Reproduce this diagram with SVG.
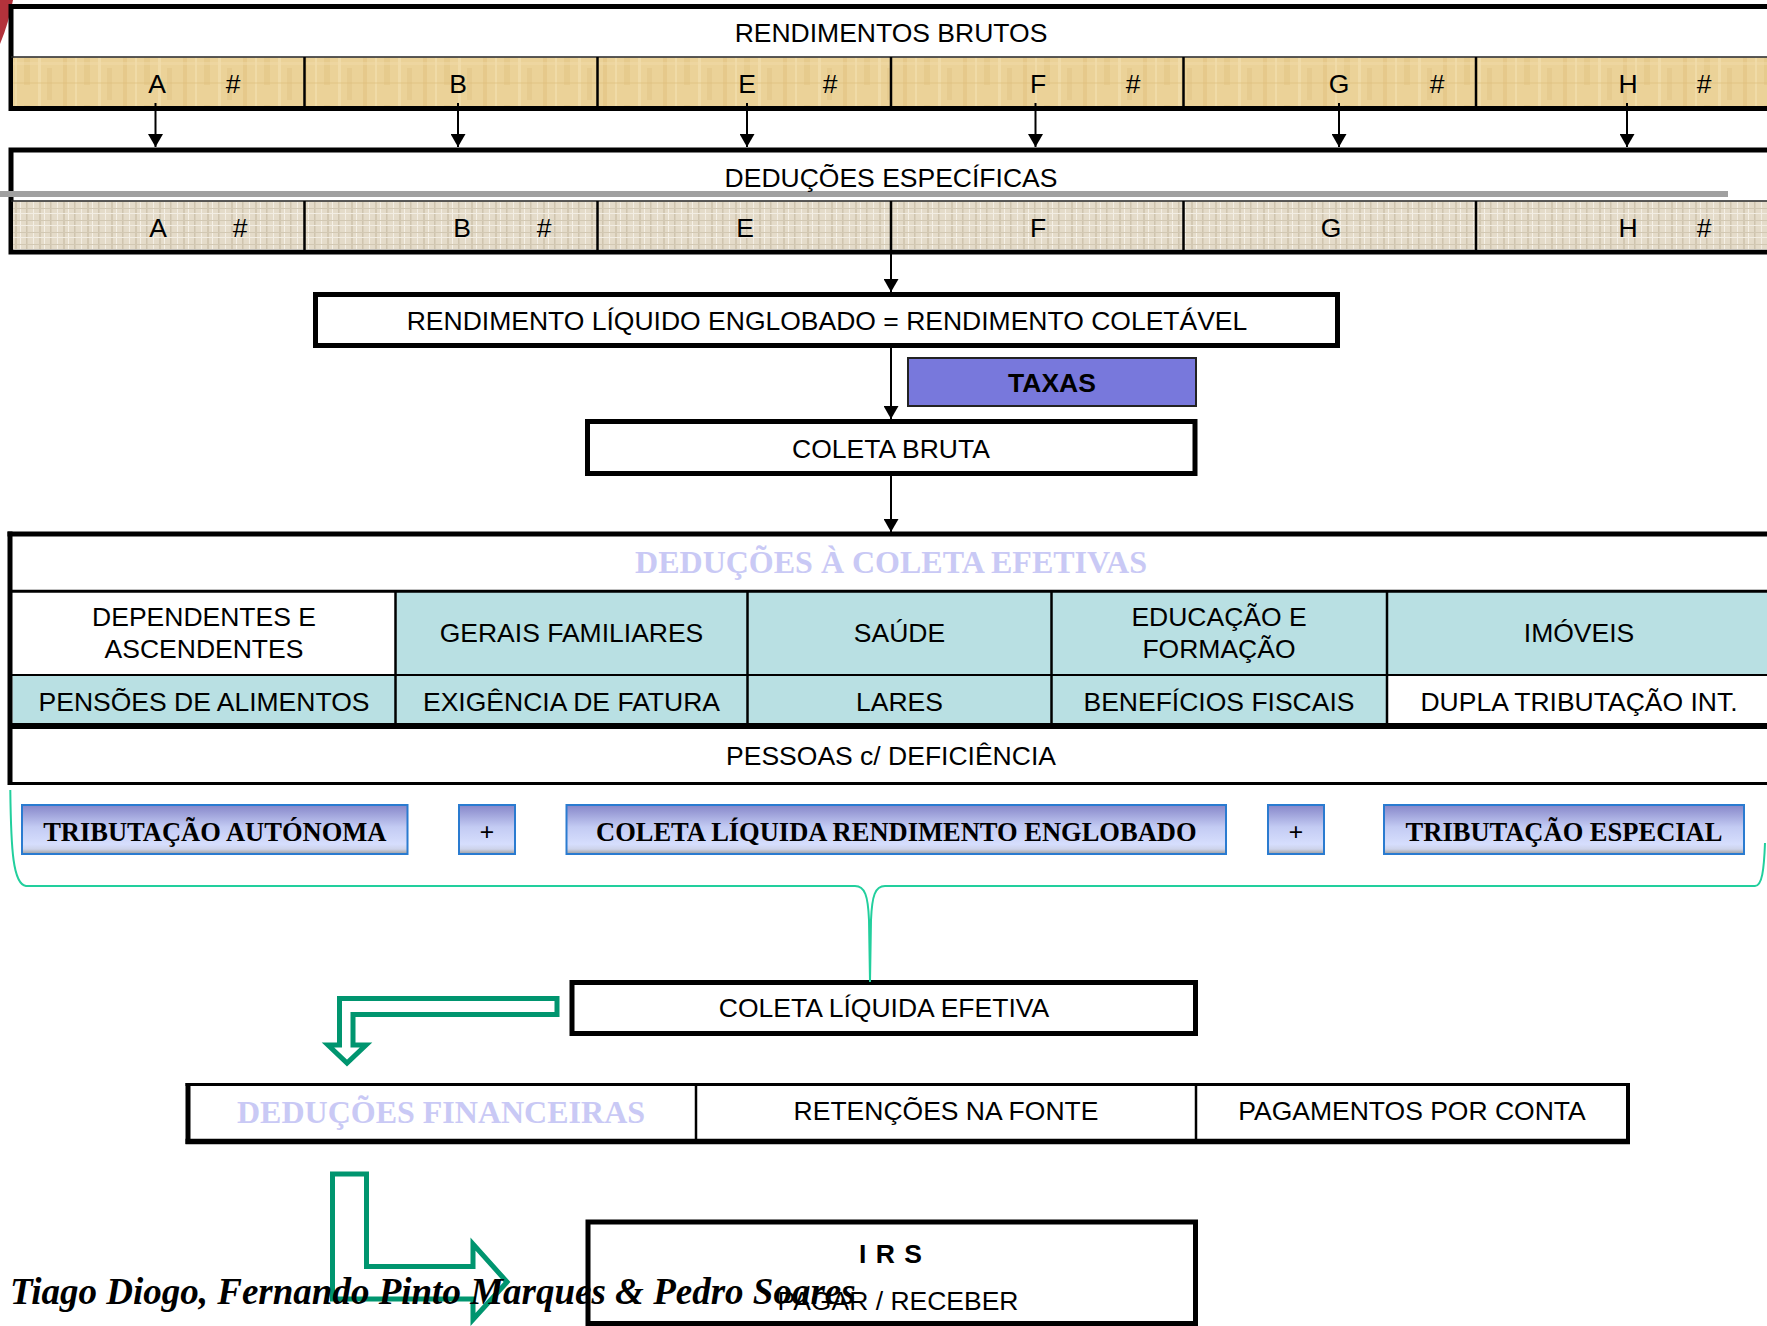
<svg xmlns="http://www.w3.org/2000/svg" width="1767" height="1326" viewBox="0 0 1767 1326">
<defs>
<style>
.t{font-family:"Liberation Sans",Arial,sans-serif;font-size:26.5px;fill:#000;text-anchor:middle}
.sb{font-family:"Liberation Serif","Times New Roman",serif;font-weight:bold;text-anchor:middle;fill:#000}
.lav{fill:#c9c9f5;font-size:32px}
.box{fill:#fff;stroke:#000;stroke-width:5}
.teal{fill:#b9e0e3}
.div{stroke:#000;stroke-width:2.5}
.btn{fill:url(#btnGrad);stroke:#2a7bd0;stroke-width:2}
.conn{stroke:#000;stroke-width:2;fill:none;marker-end:url(#ah)}
.garrow{fill:#fff;stroke:#00956f;stroke-width:5;stroke-linejoin:miter}
</style>
<marker id="ah" markerWidth="14" markerHeight="15" refX="13" refY="7.5" orient="auto" markerUnits="userSpaceOnUse"><path d="M0,0 L13,7.5 L0,15 z" fill="#000"/></marker>
<linearGradient id="btnGrad" x1="0" y1="0" x2="0" y2="1">
<stop offset="0" stop-color="#8686c9"/>
<stop offset="0.45" stop-color="#c3cbf3"/>
<stop offset="0.8" stop-color="#d6defd"/>
<stop offset="0.9" stop-color="#cdd3ea"/>
<stop offset="1" stop-color="#9c9c9c"/>
</linearGradient>
<pattern id="tan" width="60" height="50" patternUnits="userSpaceOnUse">
<rect width="60" height="50" fill="#ebd298"/>
<rect x="3" width="4" height="50" fill="#e0c07c" opacity=".45"/>
<rect x="15" width="2" height="50" fill="#f4e2b3" opacity=".55"/>
<rect x="24" y="5" width="6" height="30" fill="#ddbd79" opacity=".35"/>
<rect x="38" width="3" height="50" fill="#f5e4b8" opacity=".5"/>
<rect x="47" y="18" width="5" height="32" fill="#dfc182" opacity=".4"/>
<rect y="12" width="60" height="3" fill="#f2dcaa" opacity=".45"/>
<rect y="32" width="60" height="2" fill="#dcbc7a" opacity=".35"/>
</pattern>
<pattern id="linen" width="24" height="12" patternUnits="userSpaceOnUse">
<rect width="24" height="12" fill="#e4dbc9"/>
<rect x="2" width="1.5" height="12" fill="#cfc4ae"/>
<rect x="9" width="1" height="12" fill="#f3eee4"/>
<rect x="15" width="2" height="12" fill="#d3c8b2"/>
<rect x="20" width="1" height="12" fill="#f5f0e6"/>
<rect y="4" width="24" height="1" fill="#d2c8b3"/>
<rect y="9" width="24" height="1" fill="#f2ede3"/>
</pattern>
</defs>

<rect width="1767" height="1326" fill="#fff"/>
<path d="M0,0 L13,0 C10,15 6,30 0,44 Z" fill="#b3323b"/>

<g id="rendimentos-brutos">
<rect class="box" x="11" y="6.5" width="1800" height="102"/>
<rect x="13" y="57.5" width="1790" height="48.5" fill="url(#tan)"/>
<line x1="11" y1="57" x2="1767" y2="57" stroke="#222" stroke-width="1.5"/>
<line class="div" x1="304.5" y1="57" x2="304.5" y2="108"/>
<line class="div" x1="597.5" y1="57" x2="597.5" y2="108"/>
<line class="div" x1="891" y1="57" x2="891" y2="108"/>
<line class="div" x1="1183.5" y1="57" x2="1183.5" y2="108"/>
<line class="div" x1="1476" y1="57" x2="1476" y2="108"/>
<text class="t" x="891" y="42">RENDIMENTOS BRUTOS</text>
<text class="t" x="157" y="93">A</text><text class="t" x="233" y="93">#</text>
<text class="t" x="458" y="93">B</text>
<text class="t" x="747" y="93">E</text><text class="t" x="830" y="93">#</text>
<text class="t" x="1038" y="93">F</text><text class="t" x="1133" y="93">#</text>
<text class="t" x="1339" y="93">G</text><text class="t" x="1437" y="93">#</text>
<text class="t" x="1628" y="93">H</text><text class="t" x="1704" y="93">#</text>
</g>

<g id="deducoes-especificas">
<rect class="box" x="11" y="150" width="1800" height="102"/>
<line x1="0" y1="194" x2="1728" y2="194" stroke="#a0a0a0" stroke-width="6"/>
<rect x="13" y="201" width="1790" height="48.5" fill="url(#linen)"/>
<line x1="11" y1="201" x2="1767" y2="201" stroke="#222" stroke-width="1.5"/>
<line class="div" x1="304.5" y1="201" x2="304.5" y2="252"/>
<line class="div" x1="597.5" y1="201" x2="597.5" y2="252"/>
<line class="div" x1="891" y1="201" x2="891" y2="252"/>
<line class="div" x1="1183.5" y1="201" x2="1183.5" y2="252"/>
<line class="div" x1="1476" y1="201" x2="1476" y2="252"/>
<text class="t" x="891" y="186.5">DEDUÇÕES ESPECÍFICAS</text>
<text class="t" x="158" y="237">A</text><text class="t" x="240" y="237">#</text>
<text class="t" x="462" y="237">B</text><text class="t" x="544" y="237">#</text>
<text class="t" x="745" y="237">E</text>
<text class="t" x="1038" y="237">F</text>
<text class="t" x="1331" y="237">G</text>
<text class="t" x="1628" y="237">H</text><text class="t" x="1704" y="237">#</text>
</g>

<g id="rendimento-liquido">
<rect class="box" x="315.5" y="294.5" width="1022" height="51"/>
<text class="t" x="827" y="330">RENDIMENTO LÍQUIDO ENGLOBADO = RENDIMENTO COLETÁVEL</text>
</g>

<g id="taxas">
<rect x="908" y="358" width="288" height="48" fill="#7878dc" stroke="#222" stroke-width="2"/>
<text class="t" x="1052" y="391.5" font-weight="bold">TAXAS</text>
</g>

<g id="coleta-bruta">
<rect class="box" x="587.5" y="421.5" width="607.5" height="52"/>
<text class="t" x="891" y="458">COLETA BRUTA</text>
</g>

<g id="deducoes-coleta">
<rect x="10" y="534" width="1800" height="249" fill="#fff"/>
<rect class="teal" x="395.5" y="592" width="1380" height="83"/>
<rect class="teal" x="12.5" y="675" width="1374.5" height="49"/>
<line x1="7.5" y1="534" x2="1767" y2="534" stroke="#000" stroke-width="5"/>
<line x1="10" y1="531.5" x2="10" y2="785" stroke="#000" stroke-width="5"/>
<line x1="10" y1="783.4" x2="1767" y2="783.4" stroke="#000" stroke-width="3"/>
<line x1="10" y1="591.3" x2="1767" y2="591.3" stroke="#000" stroke-width="3"/>
<line x1="10" y1="675" x2="1767" y2="675" stroke="#000" stroke-width="2"/>
<line x1="10" y1="726" x2="1767" y2="726" stroke="#000" stroke-width="6"/>
<line class="div" x1="395.5" y1="591" x2="395.5" y2="726"/>
<line class="div" x1="747.5" y1="591" x2="747.5" y2="726"/>
<line class="div" x1="1051.5" y1="591" x2="1051.5" y2="726"/>
<line class="div" x1="1387" y1="591" x2="1387" y2="726"/>
<text class="sb lav" x="891" y="573">DEDUÇÕES À COLETA EFETIVAS</text>
<text class="t" x="204" y="626">DEPENDENTES E</text>
<text class="t" x="204" y="657.5">ASCENDENTES</text>
<text class="t" x="571.5" y="642">GERAIS FAMILIARES</text>
<text class="t" x="899.5" y="642">SAÚDE</text>
<text class="t" x="1219" y="626">EDUCAÇÃO E</text>
<text class="t" x="1219" y="657.5">FORMAÇÃO</text>
<text class="t" x="1579" y="642">IMÓVEIS</text>
<text class="t" x="204" y="711">PENSÕES DE ALIMENTOS</text>
<text class="t" x="571.5" y="711">EXIGÊNCIA DE FATURA</text>
<text class="t" x="899.5" y="711">LARES</text>
<text class="t" x="1219" y="711">BENEFÍCIOS FISCAIS</text>
<text class="t" x="1579" y="711">DUPLA TRIBUTAÇÃO INT.</text>
<text class="t" x="891" y="765">PESSOAS c/ DEFICIÊNCIA</text>
</g>

<g id="tributacao-autonoma">
<rect class="btn" x="22" y="805" width="385.5" height="49"/>
<text class="sb" x="214.8" y="841" font-size="26.5">TRIBUTAÇÃO AUTÓNOMA</text>
</g>
<g id="plus-1">
<rect class="btn" x="459" y="805" width="56" height="49"/>
<text class="sb" x="487" y="841" font-size="26" font-weight="normal">+</text>
</g>
<g id="coleta-liquida-englobado">
<rect class="btn" x="566.5" y="805" width="659.5" height="49"/>
<text class="sb" x="896.3" y="841" font-size="26.5">COLETA LÍQUIDA RENDIMENTO ENGLOBADO</text>
</g>
<g id="plus-2">
<rect class="btn" x="1268" y="805" width="56" height="49"/>
<text class="sb" x="1296" y="841" font-size="26" font-weight="normal">+</text>
</g>
<g id="tributacao-especial">
<rect class="btn" x="1384" y="805" width="360" height="49"/>
<text class="sb" x="1564" y="841" font-size="26.5">TRIBUTAÇÃO ESPECIAL</text>
</g>

<g id="coleta-liquida-efetiva">
<rect class="box" x="572" y="982.5" width="623.5" height="51"/>
<text class="t" x="884" y="1017">COLETA LÍQUIDA EFETIVA</text>
</g>

<g id="pagamentos-table">
<rect x="188" y="1084.5" width="1440" height="57" fill="#fff"/>
<line x1="185.5" y1="1084.5" x2="1630" y2="1084.5" stroke="#000" stroke-width="3"/>
<line x1="185.5" y1="1141.5" x2="1630" y2="1141.5" stroke="#000" stroke-width="5.5"/>
<line x1="188" y1="1083" x2="188" y2="1144" stroke="#000" stroke-width="5"/>
<line x1="1628" y1="1083" x2="1628" y2="1144" stroke="#000" stroke-width="4"/>
<line class="div" x1="696" y1="1084" x2="696" y2="1141"/>
<line class="div" x1="1196" y1="1084" x2="1196" y2="1141"/>
<text class="sb lav" x="441" y="1123">DEDUÇÕES FINANCEIRAS</text>
<text class="t" x="946" y="1120">RETENÇÕES NA FONTE</text>
<text class="t" x="1412" y="1120">PAGAMENTOS POR CONTA</text>
</g>

<g id="irs">
<rect x="588" y="1222" width="607.5" height="101.5" fill="none" stroke="#000" stroke-width="5"/>
<text class="t" x="891" y="1263" font-size="32" font-weight="bold" letter-spacing="1">I R S</text>
<text class="t" x="898" y="1310" font-size="33">PAGAR / RECEBER</text>
</g>

<g id="connectors">
<line class="conn" x1="155.5" y1="103" x2="155.5" y2="147"/>
<line class="conn" x1="458" y1="103" x2="458" y2="147"/>
<line class="conn" x1="747" y1="103" x2="747" y2="147"/>
<line class="conn" x1="1035.5" y1="103" x2="1035.5" y2="147"/>
<line class="conn" x1="1339" y1="103" x2="1339" y2="147"/>
<line class="conn" x1="1627" y1="103" x2="1627" y2="147"/>
<line class="conn" x1="891" y1="254" x2="891" y2="292"/>
<line class="conn" x1="891" y1="347" x2="891" y2="419"/>
<line class="conn" x1="891" y1="475" x2="891" y2="532"/>
<path d="M10.3,790 C11,850 13,884 26,886 L855,886 C865,886 868,896 869,920 L870,982 L871,920 C872,896 875,886 885,886 L1755,886 C1762,886 1764,870 1765,843" fill="none" stroke="#22cf9d" stroke-width="2"/>
<path class="garrow" d="M557,998.5 L339.5,998.5 L339.5,1045 L328,1045 L347,1063 L366,1045 L353,1045 L353,1014.5 L557,1014.5 Z"/>
<path class="garrow" d="M332.5,1174 L366.5,1174 L366.5,1266.5 L473,1266.5 L473,1244 L507,1282 L473,1319.5 L473,1299 L332.5,1299 Z"/>
</g>

<text x="10" y="1303.5" font-family="'Liberation Serif','Times New Roman',serif" font-weight="bold" font-style="italic" font-size="37" fill="#000">Tiago Diogo, Fernando Pinto Marques &amp; Pedro Soares</text>
</svg>
